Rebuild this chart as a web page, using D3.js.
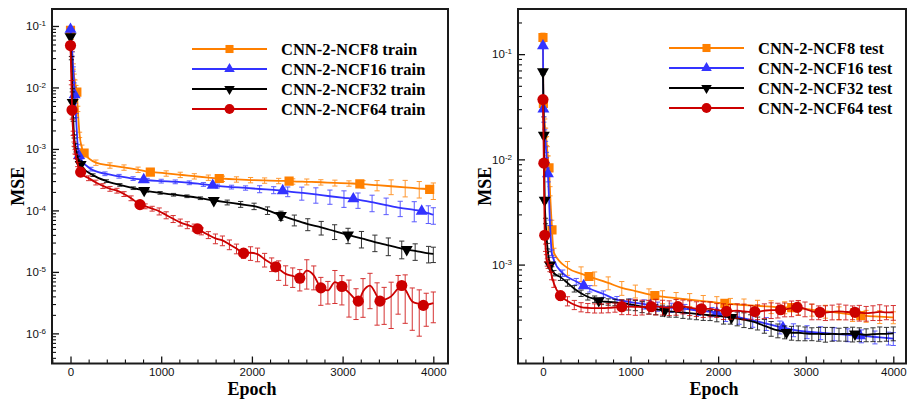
<!DOCTYPE html>
<html>
<head>
<meta charset="utf-8">
<script src="https://cdn.jsdelivr.net/npm/d3@7"></script>
<style>
  body { margin: 0; background: #fff; }
  svg { display: block; }
</style>
</head>
<body>
<svg id="chart" width="909" height="402"></svg>
<script>
// ---- epoch grids at which mean MSE and its spread were logged ----
const epochsC = [0,10,20,30,40,50,60,80,100,125,280,435,590,745,900,1055,1210,1365,1520,1675,1830,1985,2140,2295,2450,2605,2760,2915,3070,3225,3380,3535,3690,3845,4000];
const epochsB = [0,10,20,30,40,50,60,80,100,125,225,380,535,690,845,1000,1155,1310,1465,1620,1775,1930,2085,2240,2395,2550,2705,2860,3015,3170,3325,3480,3635,3790,3945,4000];
const epochsK = [0,10,20,30,40,50,60,80,100,125,248,396,544,692,840,988,1136,1284,1432,1580,1728,1876,2024,2172,2320,2468,2616,2764,2912,3060,3208,3356,3504,3652,3800,3948,4000];
const epochsF = [0,10,20,30,40,50,60,80,100,125,
  200,280,358,435,512,590,668,745,822,900,
  978,1055,1132,1210,1288,1365,1442,1520,1598,1675,
  1752,1830,1908,1985,2062,2140,2218,2295,2372,2450,
  2528,2605,2682,2760,2838,2915,2992,3070,3148,3225,
  3302,3380,3458,3535,3612,3690,3768,3845,3922,4000];

// ---- training MSE (mean), relative spread, and symbol positions ----
const train8Mse = [0.085,0.055,0.035,0.022,0.015,0.012,0.0098,0.0045,0.0017,1.05e-3,
  6.0e-4,5.4e-4,5.0e-4,4.6e-4,4.18e-4,4.0e-4,3.8e-4,3.6e-4,3.42e-4,3.28e-4,3.2e-4,3.12e-4,3.07e-4,3.02e-4,
  2.97e-4,2.92e-4,2.87e-4,2.8e-4,2.75e-4,2.67e-4,2.57e-4,2.47e-4,2.37e-4,2.27e-4,2.15e-4];
const train8Cv = [0.1,0.1,0.1,0.1,0.1,0.1,0.1,0.1,0.1,0.1,
  0.1,0.1,0.1,0.1,0.1,0.1,0.1,0.1,0.1,0.1,0.1,0.1,0.1,0.1,0.1,0.11,0.1,0.11,0.1,
  0.14,0.19,0.27,0.3,0.3,0.3];
const train8Marks = [[0,0.085],[70,0.0084],[150,8.6e-4],[880,4.2e-4],[1640,3.3e-4],[2410,3.0e-4],[3190,2.7e-4],[3960,2.2e-4]];

const train16Mse = [0.088,0.06,0.035,0.02,0.011,0.006,0.0035,1.1e-3,7.4e-4,6.4e-4,
  4.7e-4,3.95e-4,3.6e-4,3.3e-4,3.1e-4,3.0e-4,2.92e-4,2.82e-4,2.65e-4,2.5e-4,2.4e-4,2.32e-4,2.23e-4,2.15e-4,
  2.04e-4,1.93e-4,1.82e-4,1.7e-4,1.6e-4,1.5e-4,1.36e-4,1.22e-4,1.1e-4,1.02e-4,9.0e-5,8.5e-5];
const train16Cv = [0.08,0.08,0.08,0.08,0.08,0.08,0.08,0.08,0.08,0.08,
  0.07,0.07,0.07,0.07,0.07,0.07,0.07,0.07,0.07,0.07,0.07,0.08,
  0.13,0.13,0.18,0.24,0.28,0.26,0.3,0.28,0.3,0.3,0.28,0.36,0.32,0.3];
const train16Marks = [[0,0.088],[46,0.0076],[94,7.8e-4],[807,3.16e-4],[1568,2.55e-4],[2340,2.09e-4],[3118,1.54e-4],[3872,9.7e-5]];

const train32Mse = [0.067,0.03,0.009,0.003,1.6e-3,1.15e-3,9.5e-4,7.2e-4,6.1e-4,5.2e-4,
  3.75e-4,3.0e-4,2.6e-4,2.3e-4,2.08e-4,1.93e-4,1.8e-4,1.7e-4,1.58e-4,1.45e-4,1.35e-4,1.26e-4,1.17e-4,1.0e-4,
  8.3e-5,7.0e-5,6.0e-5,5.3e-5,4.6e-5,4.0e-5,3.5e-5,3.05e-5,2.7e-5,2.4e-5,2.2e-5,2.0e-5,1.97e-5];
const train32Cv = [0.06,0.06,0.06,0.06,0.06,0.06,0.06,0.06,0.06,0.06,
  0.05,0.05,0.05,0.05,0.05,0.05,0.05,0.05,0.05,
  0.07,0.09,0.11,0.12,0.14,0.17,0.2,0.22,0.25,0.27,0.28,0.3,0.3,0.32,0.32,0.3,0.3,0.28];
const train32Marks = [[0,0.067],[24,0.0057],[112,5.6e-4],[812,2.12e-4],[1580,1.45e-4],[2320,8.3e-5],[3060,4.0e-5],[3707,2.31e-5]];

const train64Mse = [0.048,0.012,0.0033,0.0018,1.2e-3,9e-4,7.5e-4,5.6e-4,4.6e-4,3.95e-4,
  3.35e-4,2.85e-4,2.5e-4,2.25e-4,2.1e-4,1.85e-4,1.58e-4,1.3e-4,1.17e-4,1.07e-4,
  9.7e-5,8.4e-5,7.3e-5,6.4e-5,5.8e-5,5.3e-5,4.6e-5,4.0e-5,3.5e-5,3.25e-5,
  2.8e-5,2.4e-5,2.02e-5,2.05e-5,1.95e-5,1.6e-5,1.35e-5,1.12e-5,9.3e-6,8.6e-6,
  7.9e-6,1.05e-5,8.8e-6,5.5e-6,5.0e-6,6.8e-6,5.8e-6,4.6e-6,3.5e-6,4.8e-6,
  6.0e-6,4.0e-6,3.5e-6,4.0e-6,5.4e-6,5.2e-6,3.3e-6,3.0e-6,2.9e-6,3.1e-6];
const train64Cv = [0.08,0.08,0.08,0.08,0.08,0.08,0.08,0.08,0.08,0.08,
  0.09,0.09,0.09,0.09,0.09,0.09,0.09,0.09,0.09,0.09,
  0.13,0.13,0.13,0.13,0.13,0.13,0.13,0.13,0.18,0.18,
  0.18,0.18,0.18,0.25,0.25,0.25,0.25,0.35,0.35,0.35,
  0.38,0.5,0.42,0.48,0.4,0.55,0.5,0.6,0.52,0.62,
  0.58,0.66,0.6,0.7,0.62,0.72,0.66,0.7,0.55,0.52];
const train64Marks = [[0,0.048],[17,0.0043],[112,4.2e-4],[766,1.24e-4],[1402,5.0e-5],[1908,2.02e-5],[2262,1.21e-5],
  [2528,7.9e-6],[2760,5.5e-6],[2992,5.8e-6],[3173,3.34e-6],[3412,3.34e-6],[3652,6.0e-6],[3890,2.85e-6]];

// ---- test MSE ----
const test8Mse = [0.144,0.028,0.022,0.018,0.015,0.012,0.0098,0.005,0.0024,1.3e-3,
  9.3e-4,8.2e-4,7.4e-4,6.7e-4,6.0e-4,5.6e-4,5.2e-4,4.95e-4,4.8e-4,4.65e-4,4.5e-4,4.35e-4,4.22e-4,4.13e-4,
  4.05e-4,3.98e-4,3.92e-4,3.85e-4,3.72e-4,3.6e-4,3.48e-4,3.35e-4,3.25e-4,3.2e-4,3.15e-4];
const test8Cv = [0.1,0.1,0.1,0.1,0.1,0.1,0.1,0.1,0.1,0.1,
  0.15,0.16,0.15,0.14,0.15,0.14,0.13,0.14,0.13,0.14,0.13,0.14,0.13,0.14,0.13,
  0.14,0.13,0.14,0.13,0.14,0.14,0.14,0.13,0.14,0.13];
const test8Marks = [[0,0.144],[5,0.034],[69,8.3e-3],[103,2.14e-3],[526,7.7e-4],[1277,5.07e-4],[2077,4.28e-4],[2840,3.9e-4],[3629,3.27e-4]];

const test16Mse = [0.12,0.024,0.018,0.014,0.011,0.0088,0.0065,0.0025,1.3e-3,1.1e-3,
  8.3e-4,6.9e-4,5.9e-4,5.25e-4,4.65e-4,4.4e-4,4.2e-4,4.0e-4,3.9e-4,3.8e-4,3.65e-4,3.55e-4,3.35e-4,3.15e-4,
  2.95e-4,2.75e-4,2.55e-4,2.4e-4,2.3e-4,2.25e-4,2.2e-4,2.15e-4,2.1e-4,2.05e-4,2.0e-4,1.98e-4];
const test16Cv = [0.06,0.06,0.06,0.06,0.06,0.06,0.06,0.06,0.06,0.06,
  0.07,0.07,0.07,0.07,0.07,0.07,0.1,0.1,0.1,0.1,0.1,0.1,
  0.14,0.14,0.14,0.14,0.14,0.14,0.14,0.14,0.14,0.14,0.14,0.14,0.14,0.14];
const test16Marks = [[0,0.12],[5,0.03],[57,0.0073],[465,6.3e-4],[1226,4.1e-4],[1985,3.48e-4],[2740,2.52e-4],[3620,2.1e-4]];

const test32Mse = [0.068,0.017,0.0041,0.0026,0.0019,0.0015,0.00125,9.9e-4,9.0e-4,8.3e-4,
  7.6e-4,6.7e-4,5.9e-4,5.35e-4,4.95e-4,4.7e-4,4.48e-4,4.42e-4,4.37e-4,4.32e-4,
  4.2e-4,4.1e-4,3.97e-4,3.85e-4,3.75e-4,3.67e-4,3.6e-4,3.55e-4,3.5e-4,3.45e-4,
  3.4e-4,3.35e-4,3.3e-4,3.25e-4,3.2e-4,3.16e-4,3.08e-4,3.0e-4,2.9e-4,2.78e-4,
  2.62e-4,2.48e-4,2.37e-4,2.29e-4,2.25e-4,2.25e-4,2.22e-4,2.2e-4,2.2e-4,2.18e-4,
  2.2e-4,2.18e-4,2.2e-4,2.19e-4,2.18e-4,2.15e-4,2.18e-4,2.2e-4,2.2e-4,2.22e-4];
const test32Cv = [0.06,0.06,0.06,0.06,0.06,0.06,0.06,0.06,0.06,0.06,
  0.07,0.07,0.07,0.07,0.07,0.07,0.07,0.07,0.07,0.07,
  0.12,0.11,0.12,0.12,0.11,0.12,0.12,0.11,0.12,0.12,
  0.12,0.12,0.11,0.12,0.15,0.14,0.15,0.16,0.15,0.14,
  0.15,0.16,0.15,0.14,0.15,0.16,0.15,0.14,0.15,0.16,
  0.15,0.14,0.15,0.16,0.15,0.14,0.15,0.16,0.15,0.15];
const test32Marks = [[0,0.068],[10,0.017],[20,0.0041],[80,9.9e-4],[637,4.54e-4],[1390,3.65e-4],[2153,3.15e-4],[2781,2.27e-4],[3562,2.19e-4]];

const test64Mse = [0.037,0.0092,0.0019,1.45e-3,1.15e-3,1.05e-3,1.0e-3,9.3e-4,7.8e-4,6.6e-4,
  5.07e-4,4.5e-4,4.15e-4,3.95e-4,3.88e-4,3.85e-4,3.85e-4,3.87e-4,3.92e-4,3.98e-4,
  3.98e-4,3.97e-4,3.95e-4,3.98e-4,4.0e-4,3.95e-4,3.9e-4,3.98e-4,4.0e-4,3.9e-4,
  3.82e-4,3.79e-4,3.8e-4,3.7e-4,3.62e-4,3.6e-4,3.65e-4,3.6e-4,3.55e-4,3.57e-4,
  3.65e-4,3.7e-4,3.7e-4,3.75e-4,3.85e-4,3.93e-4,3.8e-4,3.6e-4,3.52e-4,3.5e-4,
  3.55e-4,3.6e-4,3.55e-4,3.52e-4,3.5e-4,3.45e-4,3.5e-4,3.55e-4,3.52e-4,3.52e-4];
const test64Cv = [0.08,0.08,0.08,0.08,0.08,0.08,0.08,0.08,0.08,0.08,
  0.1,0.1,0.1,0.1,0.1,0.1,0.1,0.1,0.1,0.16,
  0.16,0.17,0.16,0.15,0.17,0.16,0.16,0.17,0.15,0.16,
  0.16,0.17,0.16,0.15,0.17,0.16,0.16,0.17,0.15,0.16,
  0.16,0.17,0.16,0.15,0.17,0.16,0.16,0.17,0.15,0.16,
  0.16,0.17,0.16,0.15,0.17,0.16,0.16,0.17,0.15,0.16];
const test64Marks = [[0,0.037],[10,0.0092],[20,0.0019],[200,5.07e-4],[900,3.98e-4],[1237,3.98e-4],[1541,3.98e-4],[1809,3.8e-4],
  [2095,3.6e-4],[2419,3.57e-4],[2713,3.72e-4],[2903,3.92e-4],[3162,3.52e-4],[3562,3.52e-4]];

const epochTicks = [0, 1000, 2000, 3000, 4000];

// ---- series styling ----
const ORANGE = "#ff8000", BLUE = "#3434ff", BLACK = "#000000", RED = "#cc0000";

const trainSeries = [
  { label: "CNN-2-NCF8 train",  color: ORANGE, symbol: "square", epochs: epochsC, mse: train8Mse,  cv: train8Cv,  marks: train8Marks },
  { label: "CNN-2-NCF16 train", color: BLUE,   symbol: "up",     epochs: epochsB, mse: train16Mse, cv: train16Cv, marks: train16Marks },
  { label: "CNN-2-NCF32 train", color: BLACK,  symbol: "down",   epochs: epochsK, mse: train32Mse, cv: train32Cv, marks: train32Marks },
  { label: "CNN-2-NCF64 train", color: RED,    symbol: "circle", epochs: epochsF, mse: train64Mse, cv: train64Cv, marks: train64Marks }
];
const testSeries = [
  { label: "CNN-2-NCF8 test",  color: ORANGE, symbol: "square", epochs: epochsC, mse: test8Mse,  cv: test8Cv,  marks: test8Marks },
  { label: "CNN-2-NCF16 test", color: BLUE,   symbol: "up",     epochs: epochsB, mse: test16Mse, cv: test16Cv, marks: test16Marks },
  { label: "CNN-2-NCF32 test", color: BLACK,  symbol: "down",   epochs: epochsF, mse: test32Mse, cv: test32Cv, marks: test32Marks },
  { label: "CNN-2-NCF64 test", color: RED,    symbol: "circle", epochs: epochsF, mse: test64Mse, cv: test64Cv, marks: test64Marks }
];

const panels = [
  { id: "train", series: trainSeries, left: 52, right: 448, top: 9, bottom: 363.5,
    xDomain: [-204, 4162], yDomain: [Math.pow(10, -6.49), Math.pow(10, -0.724)],
    titleX: 18, legendX: 192, legendY: 49 },
  { id: "test", series: testSeries, left: 518, right: 906, top: 9, bottom: 363.5,
    xDomain: [-285, 4145], yDomain: [Math.pow(10, -3.94), Math.pow(10, -0.571)],
    titleX: 485, legendX: 669, legendY: 48 }
];

const SANS = "'Liberation Sans', Arial, Helvetica, sans-serif";
const SERIF = "'Liberation Serif', 'Times New Roman', Times, serif";

const svg = d3.select("#chart");

function symbolPath(kind, big) {
  const k = big ? 1 : 0.88;
  if (kind === "square") return d3.symbol(d3.symbolSquare, 84 * k * k)();
  if (kind === "circle") return d3.symbol(d3.symbolCircle, 98 * k * k)();
  return d3.symbol(d3.symbolTriangle, 62 * k * k)();
}

function drawSymbol(g, kind, color, cx, cy, big) {
  g.append("path")
    .attr("d", symbolPath(kind, big))
    .attr("transform", `translate(${cx},${cy})` + (kind === "down" ? " rotate(180)" : ""))
    .attr("fill", color);
}

function linePoints(s) {
  const pts = s.epochs.map((e, i) => ({ e, v: s.mse[i] }));
  s.marks.forEach(([e, v]) => { if (!pts.some(p => p.e === e)) pts.push({ e, v }); });
  return pts.sort((a, b) => a.e - b.e);
}

panels.forEach(p => {
  const g = svg.append("g").attr("class", "panel-" + p.id);
  const x = d3.scaleLinear().domain(p.xDomain).range([p.left, p.right]);
  const y = d3.scaleLog().domain(p.yDomain).range([p.bottom, p.top]);

  // log ticks: decades are major, 2..9 are minor
  const lo = Math.floor(Math.log10(p.yDomain[0])), hi = Math.ceil(Math.log10(p.yDomain[1]));
  const yMajor = [], yMinor = [];
  for (let d = lo; d <= hi; d++) {
    for (let k = 1; k <= 9; k++) {
      const v = k * Math.pow(10, d);
      if (v < p.yDomain[0] || v > p.yDomain[1]) continue;
      (k === 1 ? yMajor : yMinor).push(v);
    }
  }
  const xMinor = d3.range(-200, 4401, 200).filter(v => v % 1000 !== 0 && v > p.xDomain[0] && v < p.xDomain[1]);

  // clip region
  const clipId = "clip-" + p.id;
  svg.append("clipPath").attr("id", clipId).append("rect")
    .attr("x", p.left).attr("y", p.top).attr("width", p.right - p.left).attr("height", p.bottom - p.top);

  // y axis
  const yAxisG = g.append("g").attr("transform", `translate(${p.left},0)`);
  yAxisG.call(d3.axisLeft(y).tickValues(yMajor).tickSize(-7).tickPadding(6).tickFormat(() => ""));
  yAxisG.select(".domain").remove();
  yAxisG.selectAll(".tick line").attr("stroke", "#111").attr("stroke-width", 1.3);
  yAxisG.selectAll(".tick text").each(function (d) {
    const t = d3.select(this);
    t.attr("font-family", SANS).attr("font-size", 11.5).attr("fill", "#111");
    t.append("tspan").text("10");
    t.append("tspan").attr("dy", "-0.5em").attr("font-size", 8).text(String(Math.round(Math.log10(d))));
  });
  const yMinorG = g.append("g").attr("transform", `translate(${p.left},0)`);
  yMinorG.call(d3.axisLeft(y).tickValues(yMinor).tickSize(-4).tickFormat(() => ""));
  yMinorG.select(".domain").remove();
  yMinorG.selectAll(".tick line").attr("stroke", "#111").attr("stroke-width", 1.1);

  // x axis
  const xAxisG = g.append("g").attr("transform", `translate(0,${p.bottom})`);
  xAxisG.call(d3.axisBottom(x).tickValues(epochTicks).tickSize(-7).tickPadding(4).tickFormat(d3.format("d")));
  xAxisG.select(".domain").remove();
  xAxisG.selectAll(".tick line").attr("stroke", "#111").attr("stroke-width", 1.3);
  xAxisG.selectAll(".tick text").attr("font-family", SANS).attr("font-size", 11.5).attr("fill", "#111");
  const xMinorG = g.append("g").attr("transform", `translate(0,${p.bottom})`);
  xMinorG.call(d3.axisBottom(x).tickValues(xMinor).tickSize(-4).tickFormat(() => ""));
  xMinorG.select(".domain").remove();
  xMinorG.selectAll(".tick line").attr("stroke", "#111").attr("stroke-width", 1.1);

  // data
  const plot = g.append("g").attr("clip-path", `url(#${clipId})`);
  const line = d3.line().x(d => x(d.e)).y(d => y(d.v)).curve(d3.curveMonotoneX);

  p.series.forEach(s => {
    const sg = plot.append("g");
    sg.append("path").datum(linePoints(s))
      .attr("d", line).attr("fill", "none")
      .attr("stroke", s.color).attr("stroke-width", 1.8).attr("stroke-linejoin", "round");

    const bars = sg.append("g").attr("stroke", s.color).attr("stroke-width", 1).attr("opacity", 0.8);
    s.epochs.forEach((e, i) => {
      const v = s.mse[i], sd = s.cv[i] * v;
      const cx = x(e), y0 = y(v - sd), y1 = y(v + sd);
      bars.append("line").attr("x1", cx).attr("x2", cx).attr("y1", y0).attr("y2", y1);
      bars.append("line").attr("x1", cx - 2.6).attr("x2", cx + 2.6).attr("y1", y0).attr("y2", y0);
      bars.append("line").attr("x1", cx - 2.6).attr("x2", cx + 2.6).attr("y1", y1).attr("y2", y1);
    });

    const mg = sg.append("g");
    s.marks.forEach(([e, v]) => drawSymbol(mg, s.symbol, s.color, x(e), y(v), true));
  });

  // frame
  g.append("rect")
    .attr("x", p.left).attr("y", p.top)
    .attr("width", p.right - p.left).attr("height", p.bottom - p.top)
    .attr("fill", "none").attr("stroke", "#1a1a1a").attr("stroke-width", 2);

  // axis titles
  g.append("text")
    .attr("transform", `translate(${p.titleX},${(p.top + p.bottom) / 2}) rotate(-90)`)
    .attr("text-anchor", "middle").attr("dominant-baseline", "central")
    .attr("font-family", SERIF).attr("font-weight", "bold").attr("font-size", 18)
    .text("MSE");
  g.append("text")
    .attr("x", (p.left + p.right) / 2 + 2).attr("y", 394.5)
    .attr("text-anchor", "middle")
    .attr("font-family", SERIF).attr("font-weight", "bold").attr("font-size", 18)
    .text("Epoch");

  // legend
  const lg = g.append("g");
  p.series.forEach((s, i) => {
    const ly = p.legendY + i * 20;
    lg.append("line").attr("x1", p.legendX).attr("x2", p.legendX + 75)
      .attr("y1", ly).attr("y2", ly).attr("stroke", s.color).attr("stroke-width", 1.8);
    drawSymbol(lg, s.symbol, s.color, p.legendX + 37.5, ly, false);
    lg.append("text").attr("x", p.legendX + 89).attr("y", ly)
      .attr("dominant-baseline", "central")
      .attr("font-family", SERIF).attr("font-weight", "bold").attr("font-size", 16.5)
      .attr("fill", "#000").text(s.label);
  });
});
</script>
</body>
</html>
